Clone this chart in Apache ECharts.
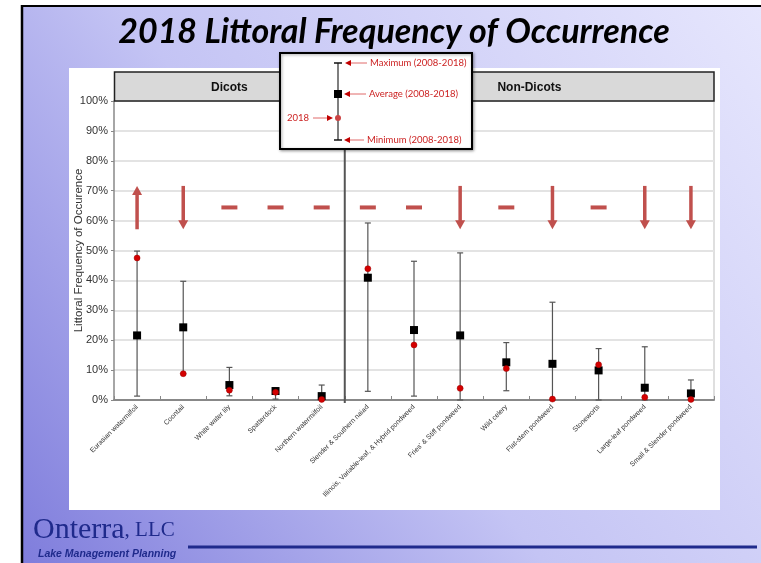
<!DOCTYPE html>
<html>
<head>
<meta charset="utf-8">
<script src="https://cdn.jsdelivr.net/npm/echarts@6/dist/echarts.min.js"></script>
<style>
  html, body { margin: 0; padding: 0; background: #ffffff; }
  #chart { width: 761px; height: 563px; }
</style>
</head>
<body>
<div id="chart"></div>
<script>
// Species surveyed, in display order
const categories = [
  'Eurasian watermilfoil', 'Coontail', 'White water lily', 'Spatterdock', 'Northern watermilfoil',
  'Slender & Southern naiad', 'Illinois, Variable-leaf, & Hybrid pondweed', "Fries' & Stiff pondweed",
  'Wild celery', 'Flat-stem pondweed', 'Stoneworts', 'Large-leaf pondweed', 'Small & Slender pondweed'
];
// Plant groups and how many species each holds
const groupNames = ['Dicots', 'Non-Dicots'];
const groupSizes = [5, 8];

// Littoral frequency of occurrence (%), 2008-2018
const maxValues  = [49.8, 39.7, 10.9, 3.9, 5.0, 59.2, 46.4, 49.2, 19.2, 32.7, 17.2, 17.8, 6.7];
const minValues  = [1.3, 8.8, 1.4, 0.3, 0.0, 2.9, 1.3, 0.0, 3.1, 0.0, 0.0, 0.0, 0.0];
const avgValues  = [21.6, 24.3, 5.0, 3.0, 1.3, 40.9, 23.4, 21.6, 12.6, 12.1, 9.9, 4.1, 2.2];
const values2018 = [47.5, 8.8, 3.3, 2.6, 0.2, 43.9, 18.4, 3.9, 10.5, 0.3, 11.8, 0.9, 0.2];

// Trend indicator per species
const trends = ['up', 'down', 'flat', 'flat', 'flat', 'flat', 'flat', 'down', 'flat', 'down', 'flat', 'down', 'down'];

// Y axis ticks
const yMin = 0, yMax = 100, yStep = 10;

const TREND_COLOR = '#c0504d';
const NAVY = '#1f2a8c';
const LEGEND_RED = '#cc2222';

const chart = echarts.init(document.getElementById('chart'), null, { renderer: 'canvas' });

const option = {
  animation: false,
  grid: { left: 114, right: 47, top: 101, bottom: 163, containLabel: false },
  xAxis: {
    type: 'category',
    data: categories,
    boundaryGap: true,
    axisLine: { lineStyle: { color: '#888888', width: 2 } },
    axisTick: { show: true, inside: true, length: 4, interval: 0, lineStyle: { color: '#888888', width: 1 } },
    axisLabel: {
      interval: 0, rotate: 45, fontSize: 7, color: '#333333',
      fontFamily: 'Liberation Sans, Arial, sans-serif', margin: 6
    },
    splitLine: { show: false }
  },
  yAxis: {
    type: 'value',
    min: yMin, max: yMax, interval: yStep,
    name: 'Littoral Frequency of Occurence',
    nameLocation: 'middle',
    nameGap: 29,
    nameMoveOverlap: false,
    nameTextStyle: { fontSize: 11.5, color: '#333333', fontFamily: 'Liberation Sans, Arial, sans-serif' },
    axisLine: { show: true, lineStyle: { color: '#888888', width: 1.5 } },
    axisTick: { show: true, length: 3, lineStyle: { color: '#888888' } },
    axisLabel: {
      formatter: '{value}%', fontSize: 11, color: '#333333', margin: 6,
      fontFamily: 'Liberation Sans, Arial, sans-serif'
    },
    splitLine: { show: true, lineStyle: { color: '#e3e3e3', width: 2 } }
  },
  series: [
    {
      name: 'Range (2008-2018)',
      type: 'custom',
      z: 3,
      data: categories.map((c, i) => [i, minValues[i], maxValues[i]]),
      encode: { x: 0, y: [1, 2] },
      renderItem: function (params, api) {
        const i = api.value(0);
        const lo = api.coord([i, api.value(1)]);
        const hi = api.coord([i, api.value(2)]);
        const cap = 3;
        const st = { stroke: '#555555', lineWidth: 1.2 };
        return {
          type: 'group',
          children: [
            { type: 'line', shape: { x1: lo[0], y1: lo[1], x2: hi[0], y2: hi[1] }, style: st },
            { type: 'line', shape: { x1: hi[0] - cap, y1: hi[1], x2: hi[0] + cap, y2: hi[1] }, style: st },
            { type: 'line', shape: { x1: lo[0] - cap, y1: lo[1], x2: lo[0] + cap, y2: lo[1] }, style: st }
          ]
        };
      }
    },
    {
      name: 'Trend',
      type: 'custom',
      z: 3,
      data: categories.map((c, i) => [i, trends[i]]),
      renderItem: function (params, api) {
        const i = params.dataIndex;
        const t = trends[i];
        const c = api.coord([i, 64.4]);
        if (t === 'flat') {
          return { type: 'rect', shape: { x: c[0] - 8, y: c[1] - 2, width: 16, height: 4 }, style: { fill: TREND_COLOR } };
        }
        const top = api.coord([i, 71.6]);
        const bot = api.coord([i, 57.1]);
        const head = 9, hw = 5;
        let line, tri;
        if (t === 'up') {
          line = { x1: bot[0], y1: bot[1], x2: top[0], y2: top[1] + head - 1 };
          tri = [[top[0], top[1]], [top[0] - hw, top[1] + head], [top[0] + hw, top[1] + head]];
        } else {
          line = { x1: top[0], y1: top[1], x2: bot[0], y2: bot[1] - head + 1 };
          tri = [[bot[0], bot[1]], [bot[0] - hw, bot[1] - head], [bot[0] + hw, bot[1] - head]];
        }
        return {
          type: 'group',
          children: [
            { type: 'line', shape: line, style: { stroke: TREND_COLOR, lineWidth: 3.5 } },
            { type: 'polygon', shape: { points: tri }, style: { fill: TREND_COLOR } }
          ]
        };
      }
    },
    {
      name: 'Average (2008-2018)',
      type: 'scatter',
      z: 4,
      symbol: 'rect',
      symbolSize: 8,
      itemStyle: { color: '#000000', opacity: 1 },
      data: avgValues
    },
    {
      name: '2018',
      type: 'scatter',
      z: 5,
      symbol: 'circle',
      symbolSize: 6,
      itemStyle: { color: '#d40000', borderColor: '#9a0000', borderWidth: 0.5, opacity: 1 },
      data: values2018
    }
  ]
};

chart.setOption(option);

// Plot geometry taken from the axes
const x0 = chart.convertToPixel({ xAxisIndex: 0 }, 0);
const x1 = chart.convertToPixel({ xAxisIndex: 0 }, 1);
const band = x1 - x0;
const plotLeft = x0 - band / 2;
const plotRight = plotLeft + band * categories.length;
const yTop = chart.convertToPixel({ yAxisIndex: 0 }, yMax);
const yBottom = chart.convertToPixel({ yAxisIndex: 0 }, yMin);
const headerTop = yTop - 29;

const graphics = [];

// Slide background
graphics.push({
  type: 'rect', z: -30, silent: true,
  shape: { x: 22, y: 6, width: 739, height: 557 },
  style: {
    fill: new echarts.graphic.LinearGradient(0, 1, 1, 0, [
      { offset: 0, color: '#7f7ddc' },
      { offset: 0.45, color: '#c4c4f4' },
      { offset: 1, color: '#e6e6fd' }
    ])
  }
});
graphics.push({ type: 'line', z: -29, silent: true, shape: { x1: 21, y1: 6, x2: 761, y2: 6 }, style: { stroke: '#000', lineWidth: 2 } });
graphics.push({ type: 'line', z: -29, silent: true, shape: { x1: 22, y1: 5, x2: 22, y2: 563 }, style: { stroke: '#000', lineWidth: 2.5 } });

// White chart panel
graphics.push({
  type: 'rect', z: -28, silent: true,
  shape: { x: 69, y: 68, width: 651, height: 442 },
  style: { fill: '#ffffff' }
});

// Right plot border
graphics.push({
  type: 'line', z: -1, silent: true,
  shape: { x1: plotRight, y1: yTop, x2: plotRight, y2: yBottom },
  style: { stroke: '#d4d4d4', lineWidth: 1.5 }
});

// Group header bands and divider
let start = 0;
groupNames.forEach((g, k) => {
  const gx0 = plotLeft + band * start;
  const gx1 = plotLeft + band * (start + groupSizes[k]);
  graphics.push({
    type: 'rect', z: 6, silent: true,
    shape: { x: gx0 + 0.5, y: headerTop, width: gx1 - gx0 - 0.5, height: yTop - headerTop },
    style: { fill: '#d9d9d9', stroke: '#222222', lineWidth: 1.5 }
  });
  graphics.push({
    type: 'text', z: 7, silent: true,
    x: (gx0 + gx1) / 2, y: (headerTop + yTop) / 2 + 1,
    style: {
      text: g, font: 'bold 12px "Liberation Sans", Arial, sans-serif', fill: '#111111',
      align: 'center', verticalAlign: 'middle'
    }
  });
  if (k > 0) {
    graphics.push({
      type: 'line', z: 6, silent: true,
      shape: { x1: gx0, y1: headerTop, x2: gx0, y2: yBottom + 3 },
      style: { stroke: '#555555', lineWidth: 2 }
    });
  }
  start += groupSizes[k];
});

// Key box explaining the marks
const kx = 280, ky = 53, kw = 192, kh = 96;
const mx = 338;
const kMax = 63, kAvg = 94, k18 = 118, kMin = 140;
graphics.push({
  type: 'rect', z: 20, silent: true,
  shape: { x: kx, y: ky, width: kw, height: kh },
  style: { fill: '#ffffff', stroke: '#000000', lineWidth: 2, shadowBlur: 3, shadowOffsetX: 1, shadowOffsetY: 1, shadowColor: 'rgba(0,0,0,0.35)' }
});
graphics.push({ type: 'line', z: 21, silent: true, shape: { x1: mx, y1: kMax, x2: mx, y2: kMin }, style: { stroke: '#555555', lineWidth: 1.5 } });
graphics.push({ type: 'line', z: 21, silent: true, shape: { x1: mx - 4, y1: kMax, x2: mx + 4, y2: kMax }, style: { stroke: '#111111', lineWidth: 1.5 } });
graphics.push({ type: 'line', z: 21, silent: true, shape: { x1: mx - 4, y1: kMin, x2: mx + 4, y2: kMin }, style: { stroke: '#111111', lineWidth: 1.5 } });
graphics.push({ type: 'rect', z: 22, silent: true, shape: { x: mx - 4, y: kAvg - 4, width: 8, height: 8 }, style: { fill: '#000000' } });
graphics.push({ type: 'circle', z: 22, silent: true, shape: { cx: mx, cy: k18, r: 3 }, style: { fill: '#cc4444' } });

function keyArrow(tipX, tailX, y) {
  const dir = tailX > tipX ? 1 : -1;
  graphics.push({ type: 'line', z: 21, silent: true, shape: { x1: tipX + dir * 4, y1: y, x2: tailX, y2: y }, style: { stroke: '#e06a6a', lineWidth: 1 } });
  graphics.push({
    type: 'polygon', z: 21, silent: true,
    shape: { points: [[tipX, y], [tipX + dir * 6, y - 3], [tipX + dir * 6, y + 3]] },
    style: { fill: '#c00000' }
  });
}
function keyText(x, y, text, align) {
  graphics.push({
    type: 'text', z: 22, silent: true, x: x, y: y,
    style: { text: text, font: '9.5px Lato, "Open Sans", sans-serif', fill: LEGEND_RED, align: align || 'left', verticalAlign: 'middle' }
  });
}
keyArrow(mx + 7, 367, kMax);
keyText(370, kMax, 'Maximum (2008-2018)');
keyArrow(mx + 6, 366, kAvg);
keyText(369, kAvg, 'Average (2008-2018)');
keyArrow(mx - 5, 313, k18);
keyText(309, k18, '2018', 'right');
keyArrow(mx + 6, 364, kMin);
keyText(367, kMin, 'Minimum (2008-2018)');

// Slide title
graphics.push({
  type: 'text', z: 10, silent: true, x: 394, y: 32,
  style: {
    text: '2018 Littoral Frequency of Occurrence',
    font: 'italic bold 34px Lato, "Open Sans", sans-serif', fill: '#000000',
    align: 'center', verticalAlign: 'middle'
  }
});

// Company mark
graphics.push({
  type: 'text', z: 10, silent: true, x: 33, y: 545,
  style: {
    text: '{a|Onterra}{b|, LLC}',
    rich: {
      a: { font: '30px "Liberation Serif", "DejaVu Serif", serif', fill: NAVY },
      b: { font: '21px "Liberation Serif", "DejaVu Serif", serif', fill: NAVY }
    },
    align: 'left', verticalAlign: 'bottom'
  }
});
graphics.push({
  type: 'text', z: 10, silent: true, x: 38, y: 554,
  style: {
    text: 'Lake Management Planning',
    font: 'italic bold 10.5px "Liberation Sans", Arial, sans-serif', fill: NAVY,
    align: 'left', verticalAlign: 'middle'
  }
});
graphics.push({ type: 'line', z: 10, silent: true, shape: { x1: 188, y1: 547, x2: 757, y2: 547 }, style: { stroke: NAVY, lineWidth: 3 } });

chart.setOption({ graphic: { elements: graphics } });
</script>
</body>
</html>
